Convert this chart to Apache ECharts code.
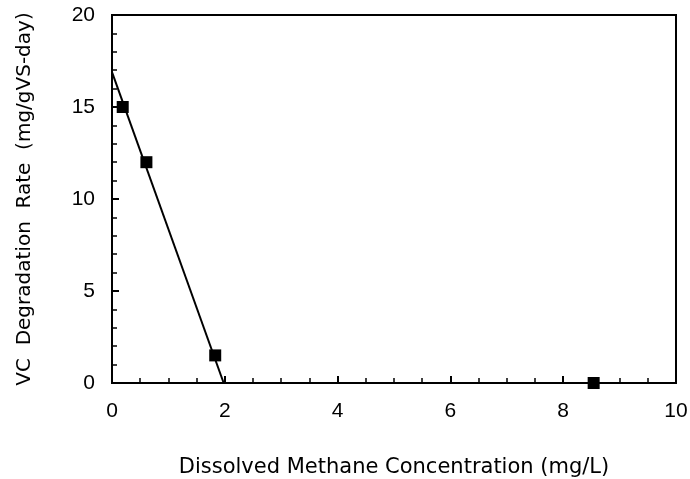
<!DOCTYPE html>
<html>
<head>
<meta charset="utf-8">
<script src="https://cdn.jsdelivr.net/npm/echarts@6/dist/echarts.min.js"></script>
<style>html,body{margin:0;padding:0;background:#fff;}#c{width:690px;height:479px;}</style>
</head>
<body>
<div id="c"></div>
<script>
const pointsX = [0.19, 0.61, 1.83, 8.54];
const pointsY = [15.0, 12.0, 1.5, 0.0];
const fitX = [0, 1.98];
const fitY = [16.9, 0];
const xTicks = [0, 2, 4, 6, 8, 10];
const yTicks = [0, 5, 10, 15, 20];

const chart = echarts.init(document.getElementById('c'));
const font = 'Liberation Sans, Arial, Helvetica, sans-serif';
const nameFont = 'DejaVu Sans, sans-serif';
const hiddenAxis = (min, max, interval) => ({
  type: 'value', min: min, max: max, interval: interval,
  axisLine: {show: false}, axisLabel: {show: false}, splitLine: {show: false},
  axisTick: {show: true, inside: false, length: 4, lineStyle: {color: '#000', width: 2}}
});
chart.setOption({
  animation: false,
  grid: {left: 112, top: 15, right: 14, bottom: 96, outerBoundsMode: 'none', containLabel: false,
    show: true, borderColor: '#000', borderWidth: 2, backgroundColor: 'transparent'},
  xAxis: [{
    type: 'value', min: 0, max: 10, interval: 2,
    name: 'Dissolved Methane Concentration (mg/L)', nameLocation: 'middle', nameGap: 74,
    nameTextStyle: {fontFamily: nameFont, fontSize: 21, color: '#000'},
    axisLine: {show: true, lineStyle: {color: '#000', width: 2}},
    axisTick: {show: true, inside: true, length: 7, lineStyle: {color: '#000', width: 2}},
    minorTick: {show: true, splitNumber: 4, length: 5, lineStyle: {color: '#000', width: 1.5}},
    splitLine: {show: false},
    axisLabel: {fontFamily: font, fontSize: 21, color: '#000', margin: 18, formatter: v => xTicks.includes(v) ? String(v) : ''}
  }, hiddenAxis(0, 10, 2)],
  yAxis: [{
    type: 'value', min: 0, max: 20, interval: 5,
    name: 'VC  Degradation  Rate  (mg/gVS-day)', nameLocation: 'middle', nameGap: 77,
    nameTextStyle: {fontFamily: nameFont, fontSize: 20, color: '#000'},
    axisLine: {show: true, lineStyle: {color: '#000', width: 2}},
    axisTick: {show: true, inside: true, length: 7, lineStyle: {color: '#000', width: 2}},
    minorTick: {show: true, splitNumber: 5, length: 5, lineStyle: {color: '#000', width: 1.5}},
    splitLine: {show: false},
    axisLabel: {fontFamily: font, fontSize: 21, color: '#000', margin: 17, formatter: v => yTicks.includes(v) ? String(v) : ''}
  }, hiddenAxis(0, 20, 5)],
  series: [
    {
      type: 'line', data: fitX.map((x, i) => [x, fitY[i]]), showSymbol: false, symbol: 'none',
      lineStyle: {color: '#000', width: 2}, z: 2
    },
    {
      type: 'scatter', data: pointsX.map((x, i) => [x, pointsY[i]]), symbol: 'rect', symbolSize: 12,
      itemStyle: {color: '#000', opacity: 1}, z: 3
    }
  ]
});
</script>
</body>
</html>
